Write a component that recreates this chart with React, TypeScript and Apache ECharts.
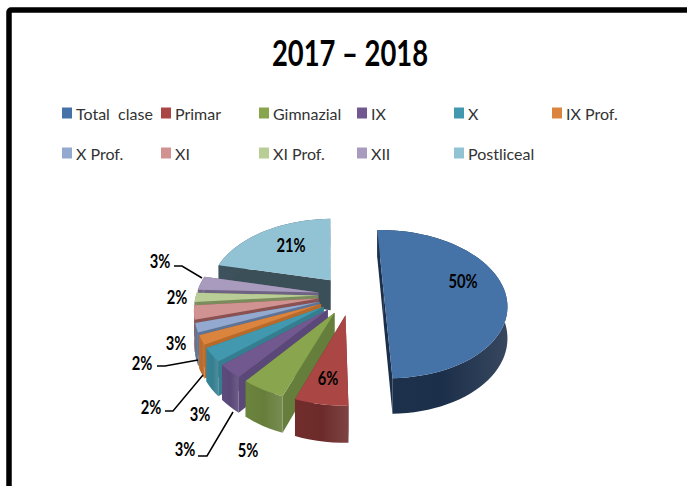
import React, { useEffect, useRef } from "react";
import * as echarts from "echarts";

const categories = ["Total  clase", "Primar", "Gimnazial", "IX", "X", "IX Prof.", "X Prof.", "XI", "XI Prof.", "XII", "Postliceal"];
const shares = [50, 6, 5, 3, 3, 2, 2, 3, 2, 3, 21];
const title = "2017 – 2018";

const colors = ["#4572A7", "#AA4643", "#89A54E", "#71588F", "#4198AF", "#DB843D", "#93A9CF", "#D19392", "#B9CD96", "#A99BBD", "#92C3D5"];
const wallColors = ["#1C2F4A", "#6C2B2A", "#667E3B", "#5A4878", "#357E90", "#B86A2A", "#5F7396", "#8A5150", "#7B8C5C", "#6F6383", "#3B4F58"];

const legendLeft = [62, 161, 259, 357, 454, 552];
const legendTop = [105, 145];

const labelPos: number[][] = [[463, 281], [328, 378], [248, 450], [185, 449], [200, 414], [151, 407], [142, 363], [176, 343], [177, 297], [160, 261], [291, 245]];
const leaders: number[][][] = [
  [[198, 456], [207, 456], [233, 412]],
  [[165, 411], [173, 411], [203, 375]],
  [[157, 366], [165, 366], [198, 360]],
  [[174, 266], [182, 266], [202, 278]],
];

const FONT = "Lato";
const CX = 351, CY = 295, RX = 122, RY = 73, P = 0.13, DEPTH = 31, EXPLODE = 0.27, ROT = -1.5;
const total = shares.reduce((a, b) => a + b, 0);

function project(u: number, v: number, z: number): number[] {
  const w = 1 + P * v;
  return [CX + (RX * u) / w, CY - (RY * v) / w + (z * DEPTH) / w];
}

function slicePieces(index: number) {
  const before = shares.slice(0, index).reduce((a, b) => a + b, 0);
  const a0 = ROT + (before / total) * 360;
  const a1 = a0 + (shares[index] / total) * 360;
  const mid = (((a0 + a1) / 2) * Math.PI) / 180;
  const ox = EXPLODE * Math.sin(mid);
  const oy = EXPLODE * Math.cos(mid);
  const steps = Math.max(4, Math.round((a1 - a0) / 3));
  const rim: number[][] = [];
  for (let i = 0; i <= steps; i++) {
    const t = ((a0 + ((a1 - a0) * i) / steps) * Math.PI) / 180;
    rim.push([Math.sin(t) + ox, Math.cos(t) + oy]);
  }
  const top = (p: number[]) => project(p[0], p[1], 0);
  const bot = (p: number[]) => project(p[0], p[1], 1);
  const apex = [ox, oy];
  const fill = wallColors[index];
  const children: any[] = [];
  const face = (pts: number[][], f: any) => children.push({ type: "polygon", shape: { points: pts }, style: { fill: f } });
  face([top(apex), top(rim[0]), bot(rim[0]), bot(apex)], fill);
  face([top(apex), top(rim[steps]), bot(rim[steps]), bot(apex)], fill);
  const wallFill = new echarts.graphic.LinearGradient(0, 0, 1, 0, [
    { offset: 0, color: echarts.color.lift(fill, -0.05) },
    { offset: 0.5, color: fill },
    { offset: 1, color: echarts.color.lift(fill, 0.12) },
  ]);
  face([...rim.map(top), ...rim.slice().reverse().map(bot)], wallFill);
  face([top(apex), ...rim.map(top)], colors[index]);
  return children;
}

const drawOrder = [10, 9, 8, 7, 6, 5, 4, 3, 2, 1, 0];

export default function App() {
  const ref = useRef<HTMLDivElement>(null);
  useEffect(() => {
    document.body.style.margin = "0";
    const chart = echarts.init(ref.current!, null, { renderer: "svg" });
    const option: any = {
      animation: false,
      backgroundColor: "#fff",
      legend: categories.map((name, i) => ({
        data: [{ name, icon: "rect", itemStyle: { color: colors[i] } }],
        left: legendLeft[i % 6],
        top: legendTop[Math.floor(i / 6)],
        itemWidth: 10,
        itemHeight: 11,
        itemGap: 0,
        padding: 0,
        selectedMode: false,
        textStyle: { fontFamily: FONT, fontSize: 16, color: "#333", padding: [0, 0, 0, -1] },
      })),
      series: [
        ...drawOrder.map((idx, order) => ({
          type: "custom",
          name: categories[idx],
          coordinateSystem: "none",
          z: 2 + order,
          silent: true,
          data: [[shares[idx]]],
          itemStyle: { color: colors[idx] },
          renderItem: () => ({ type: "group", children: slicePieces(idx) }),
        })),
        {
          type: "custom",
          name: "labels",
          coordinateSystem: "none",
          z: 30,
          silent: true,
          data: shares.map((v) => [v]),
          renderItem: (params: any, api: any) => ({
            type: "text",
            x: labelPos[params.dataIndex][0],
            y: labelPos[params.dataIndex][1],
            scaleX: 0.82,
            style: {
              text: `${api.value(0)}%`,
              fontFamily: FONT,
              fontSize: 18,
              fontWeight: "bold",
              fill: "#000",
              align: "center",
              verticalAlign: "middle",
            },
          }),
        },
      ],
      graphic: [
        {
          type: "text",
          z: 40,
          x: 350,
          y: 52,
          scaleX: 0.74,
          style: { text: title, fontFamily: FONT, fontSize: 37, fontWeight: "bold", fill: "#000", align: "center", verticalAlign: "middle" },
        },
        { type: "rect", z: 40, shape: { x: 9, y: 10, width: 720, height: 520, r: 2 }, style: { fill: "none", stroke: "#000", lineWidth: 5.5 } },
        ...leaders.map((pts) => ({ type: "polyline", z: 40, shape: { points: pts }, style: { stroke: "#000", lineWidth: 1.5, fill: "none" } })),
      ],
    };
    chart.setOption(option);
    return () => chart.dispose();
  }, []);
  return <div ref={ref} style={{ width: 687, height: 486 }} />;
}
